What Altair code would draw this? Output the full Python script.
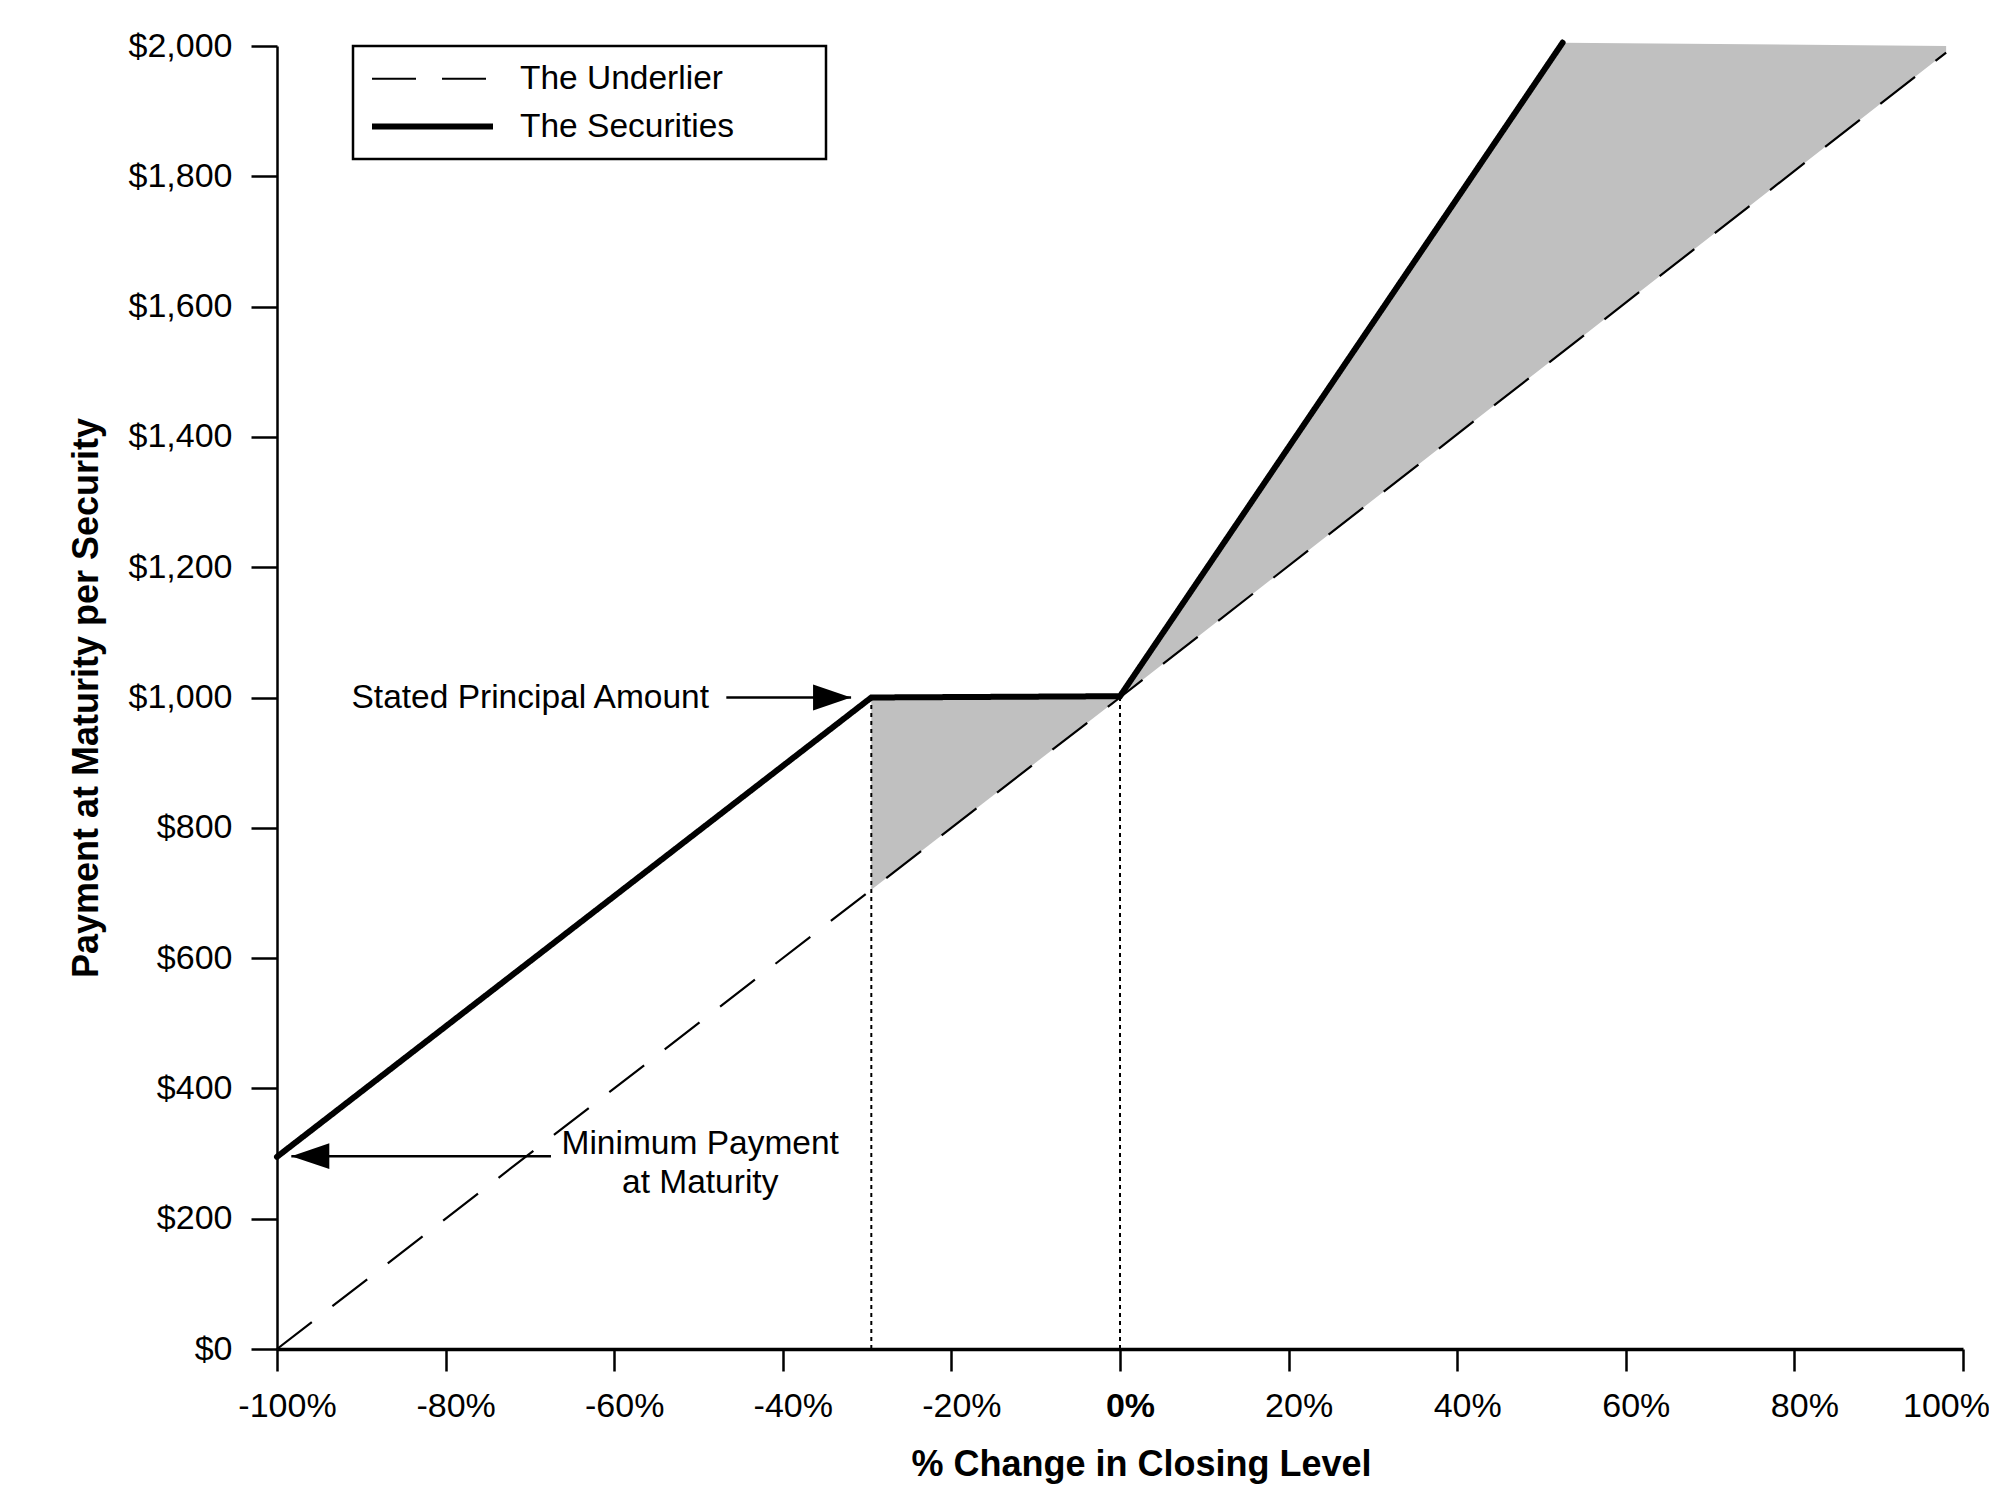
import altair as alt
import pandas as pd
import numpy as np

# ---------------- data ----------------
pct_ticks = list(range(-100, 101, 20))
usd_ticks = list(range(0, 2001, 200))
series_names = ["The Underlier", "The Securities"]

underlier_pct = [-100, 0, 98]
underlier_pay = [0, 1000, 1990]

securities_pct = [-100, -29.5, 0, 52.5]
securities_pay = [295, 1000, 1002, 2005]

shade_low_pct = [-29.5, 0]
shade_low_top = [1000, 1002]
shade_high_pct = [0, 52.5, 98]
shade_high_top = [1002, 2005, 2000]

guide_pct = [-29.5, 0]
guide_top = [1000, 1002]
guide_bottom = [0, 0]

principal_text = ["Stated Principal Amount"]
principal_text_pct = [-48.75]
principal_text_pay = [1000]

minimum_text = ["Minimum Payment", "at Maturity"]
minimum_text_pct = [-49.8, -49.8]
minimum_text_pay = [315, 255]

arrow_tip_pct = [-31.9, -98.3]
arrow_tail_pct = [-46.7, -67.5]
arrow_pay = [1000, 296]
arrow_dir = ["right", "left"]

# ---------------- tables ----------------
FONT = "Liberation Sans"

df_under = pd.DataFrame({"pct": underlier_pct, "pay": underlier_pay, "series": series_names[0]})
df_sec = pd.DataFrame({"pct": securities_pct, "pay": securities_pay, "series": series_names[1]})

shade_rows = []
for name, xs, tops in [("low", shade_low_pct, shade_low_top), ("high", shade_high_pct, shade_high_top)]:
    bottoms = np.interp(xs, underlier_pct, underlier_pay)
    for x, t, b in zip(xs, tops, bottoms):
        shade_rows.append({"region": name, "pct": x, "top": t, "bottom": float(b)})
df_shade = pd.DataFrame(shade_rows)

df_guide = pd.DataFrame({"pct": guide_pct, "top": guide_top, "bottom": guide_bottom})
df_arrow = pd.DataFrame({"tip": arrow_tip_pct, "tail": arrow_tail_pct, "pay": arrow_pay, "dir": arrow_dir})
df_ptext = pd.DataFrame({"pct": principal_text_pct, "pay": principal_text_pay, "label": principal_text})
df_mtext = pd.DataFrame({"pct": minimum_text_pct, "pay": minimum_text_pay, "label": minimum_text})

# ---------------- scales / axes ----------------
x_scale = alt.Scale(domain=[-100, 100], nice=False, zero=False)
y_scale = alt.Scale(domain=[0, 2000], nice=False, zero=False)

x_axis = alt.Axis(
    values=pct_ticks,
    labelExpr="datum.value + '%'",
    title="% Change in Closing Level",
    grid=False,
    domainWidth=3.5,
    tickSize=22,
    tickWidth=2.5,
    labelFontSize=34,
    labelPadding=18,
    labelFlush=False,
    labelOverlap=False,
    labelOffset={"condition": {"test": "datum.value == 100", "value": -17}, "value": 10},
    labelFontWeight={"condition": {"test": "datum.value == 0", "value": "bold"}, "value": "normal"},
    titleFontSize=36,
    titleFontWeight="bold",
    titleX=864,
    titleY=126,
    titleAlign="center",
    titleBaseline="alphabetic",
)

y_axis = alt.Axis(
    values=usd_ticks,
    format="$,.0f",
    title="Payment at Maturity per Security",
    grid=False,
    domainWidth=2.5,
    tickSize=26,
    tickWidth=2.5,
    labelFontSize=34,
    labelPadding=19,
    labelOverlap=False,
    titleFontSize=36,
    titleFontWeight="bold",
    titleX=-180,
    titleY=651.5,
    titleAngle=270,
    titleAlign="center",
    titleBaseline="alphabetic",
)

X = alt.X("pct:Q", scale=x_scale, axis=x_axis)
Y = alt.Y("pay:Q", scale=y_scale, axis=y_axis)

# blank (non-trimmed) characters that widen the legend frame like the reference
pad = "\u2800" * 3
legend = alt.Legend(
    title=None,
    orient="none",
    legendX=76,
    legendY=0,
    symbolType="M-4,0L4,0",
    symbolSize=915,
    symbolOffset=45,
    symbolStrokeColor="black",
    symbolFillColor="transparent",
    labelOffset=69,
    labelFontSize=33.5,
    labelFont=FONT,
    labelColor="black",
    labelLimit=600,
    labelExpr="datum.label + '" + pad + "'",
    padding=16,
    rowPadding=12,
    strokeColor="black",
    fillColor="white",
)
dash = alt.StrokeDash("series:O", scale=alt.Scale(domain=series_names, range=[[44, 26], [1, 0]]), legend=legend)
width_enc = alt.StrokeWidth("series:O", scale=alt.Scale(domain=series_names, range=[2.2, 6]), legend=legend)

# ---------------- layers ----------------
shade = alt.Chart(df_shade).mark_area(color="#C0C0C0", opacity=1).encode(
    x=X, y=alt.Y("top:Q", scale=y_scale, axis=y_axis), y2="bottom:Q", detail="region:N"
)

guides = alt.Chart(df_guide).mark_rule(color="black", strokeWidth=2, strokeDash=[4, 4]).encode(
    x=alt.X("pct:Q", scale=x_scale), y=alt.Y("bottom:Q", scale=y_scale), y2="top:Q"
)

under_line = alt.Chart(df_under).mark_line(color="black", strokeCap="butt").encode(
    x=X, y=Y, strokeDash=dash, strokeWidth=width_enc
)

sec_line = alt.Chart(df_sec).mark_line(color="black", strokeCap="round", strokeJoin="miter").encode(
    x=X, y=Y, strokeDash=dash, strokeWidth=width_enc
)

arrow_shaft = alt.Chart(df_arrow).mark_rule(color="black", strokeWidth=2.5).encode(
    x=alt.X("tail:Q", scale=x_scale), x2="tip:Q", y=alt.Y("pay:Q", scale=y_scale)
)

arrow_head = alt.Chart(df_arrow).mark_point(filled=True, color="black", opacity=1, size=1444, strokeWidth=0).encode(
    x=alt.X("tip:Q", scale=x_scale),
    y=alt.Y("pay:Q", scale=y_scale),
    shape=alt.Shape("dir:N", scale=alt.Scale(domain=["right", "left"],
                                            range=["M0,0L-2,-0.68L-2,0.68Z", "M0,0L2,-0.68L2,0.68Z"]),
                    legend=None),
)

ptext = alt.Chart(df_ptext).mark_text(align="right", baseline="middle", fontSize=33.5, font=FONT, color="black").encode(
    x=alt.X("pct:Q", scale=x_scale), y=alt.Y("pay:Q", scale=y_scale), text="label:N"
)
mtext = alt.Chart(df_mtext).mark_text(align="center", baseline="middle", fontSize=33.5, font=FONT, color="black").encode(
    x=alt.X("pct:Q", scale=x_scale), y=alt.Y("pay:Q", scale=y_scale), text="label:N"
)

chart = alt.layer(shade, guides, under_line, sec_line, arrow_shaft, arrow_head, ptext, mtext).properties(
    width=1686,
    height=1303,
    padding={"left": 269, "top": 38, "right": 26, "bottom": 149},
    autosize=alt.AutoSizeParams(type="none"),
    background="white",
).configure_view(stroke=None).configure_axis(
    domainColor="black",
    tickColor="black",
    labelColor="black",
    titleColor="black",
    labelFont=FONT,
    titleFont=FONT,
).configure_legend(
    strokeWidth=2.5,
)

chart.save("out.html", embed_options={"renderer": "svg", "actions": False})
